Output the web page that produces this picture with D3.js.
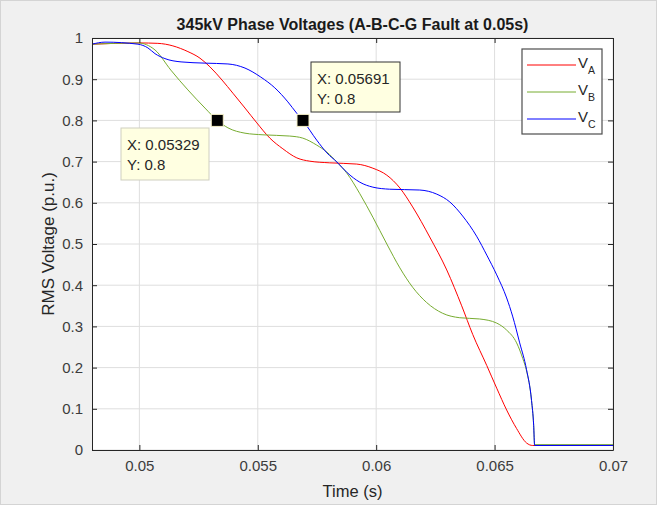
<!DOCTYPE html>
<html>
<head>
<meta charset="utf-8">
<script src="https://cdn.jsdelivr.net/npm/d3@7"></script>
<style>
body { margin: 0; background: #f0f0f0; }
svg { display: block; font-family: "Liberation Sans", Arial, sans-serif; }
</style>
</head>
<body>
<script>
// time (s) sampled along each trace, RMS voltage (p.u.)
var timeA = [0.048, 0.0500, 0.05078, 0.05205, 0.05256, 0.05298, 0.05349, 0.05395, 0.05446, 0.05496, 0.05551, 0.05606, 0.05665, 0.0572, 0.05804, 0.05918, 0.05986, 0.06045, 0.061, 0.06154, 0.06226, 0.06298, 0.06361, 0.06408, 0.06467, 0.06509, 0.06551, 0.06593, 0.06635, 0.06661, 0.07];
var voltA = [0.985, 0.988, 0.987, 0.967, 0.951, 0.930, 0.898, 0.866, 0.830, 0.794, 0.757, 0.731, 0.709, 0.701, 0.697, 0.694, 0.684, 0.667, 0.636, 0.590, 0.517, 0.437, 0.350, 0.280, 0.205, 0.150, 0.097, 0.052, 0.017, 0.011, 0.011];

var timeB = [0.048, 0.04994, 0.05066, 0.05133, 0.05205, 0.05277, 0.05329, 0.05374, 0.05446, 0.05522, 0.05635, 0.0569, 0.05749, 0.05792, 0.05834, 0.05876, 0.05931, 0.05986, 0.06045, 0.061, 0.06154, 0.06213, 0.0628, 0.06353, 0.06437, 0.06509, 0.06551, 0.06593, 0.06619, 0.06635, 0.06656, 0.06665, 0.06669, 0.07];
var voltB = [0.985, 0.988, 0.971, 0.922, 0.874, 0.830, 0.800, 0.782, 0.769, 0.765, 0.762, 0.757, 0.740, 0.723, 0.699, 0.672, 0.622, 0.565, 0.500, 0.442, 0.395, 0.358, 0.332, 0.321, 0.318, 0.308, 0.291, 0.260, 0.222, 0.192, 0.120, 0.06, 0.013, 0.013];

var timeC = [0.048, 0.04855, 0.04994, 0.05036, 0.05066, 0.05108, 0.05176, 0.05277, 0.05374, 0.05446, 0.05513, 0.05572, 0.05627, 0.05665, 0.0569, 0.05749, 0.05792, 0.05834, 0.05876, 0.05931, 0.05986, 0.06057, 0.06184, 0.06256, 0.06311, 0.06365, 0.06424, 0.06467, 0.06509, 0.06551, 0.06576, 0.06606, 0.06635, 0.06656, 0.06665, 0.06669, 0.07];
var voltC = [0.985, 0.990, 0.985, 0.976, 0.962, 0.950, 0.942, 0.939, 0.937, 0.927, 0.905, 0.879, 0.845, 0.817, 0.800, 0.752, 0.721, 0.699, 0.674, 0.650, 0.638, 0.633, 0.631, 0.621, 0.602, 0.568, 0.519, 0.473, 0.425, 0.369, 0.325, 0.260, 0.195, 0.120, 0.06, 0.011, 0.011];

var seriesNames = ["A", "B", "C"];
var seriesColors = ["#ff0000", "#77ac30", "#0000ff"];

var xTicks = [0.05, 0.055, 0.06, 0.065, 0.07];
var xTickLabels = ["0.05", "0.055", "0.06", "0.065", "0.07"];
var yTicks = [0, 0.1, 0.2, 0.3, 0.4, 0.5, 0.6, 0.7, 0.8, 0.9, 1];
var yTickLabels = ["0", "0.1", "0.2", "0.3", "0.4", "0.5", "0.6", "0.7", "0.8", "0.9", "1"];

var tipTimes = [0.05329, 0.05691];
var tipVolts = [0.8, 0.8];
var tipLabels = [["X: 0.05329", "Y: 0.8"], ["X: 0.05691", "Y: 0.8"]];

var width = 657, height = 505;
var margin = {top: 38, right: 44, bottom: 55, left: 92};
var plotW = width - margin.left - margin.right;
var plotH = height - margin.top - margin.bottom;

var xScale = d3.scaleLinear().domain([0.048, 0.07]).range([0, plotW]);
var yScale = d3.scaleLinear().domain([0, 1]).range([plotH, 0]);

var svg = d3.select("body").append("svg")
	.attr("width", width)
	.attr("height", height);

svg.append("rect")
	.attr("x", 0.5).attr("y", 0.5)
	.attr("width", width - 1).attr("height", height - 1)
	.attr("fill", "#f0f0f0")
	.attr("stroke", "#d4d4d4");

var g = svg.append("g")
	.attr("transform", "translate(" + margin.left + "," + margin.top + ")");

g.append("rect")
	.attr("width", plotW).attr("height", plotH)
	.attr("fill", "#ffffff");

// grid
g.append("g").selectAll("line").data(xTicks).enter().append("line")
	.attr("x1", d => xScale(d)).attr("x2", d => xScale(d))
	.attr("y1", 0).attr("y2", plotH)
	.attr("stroke", "#dedede").attr("stroke-width", 1);
g.append("g").selectAll("line").data(yTicks).enter().append("line")
	.attr("y1", d => yScale(d)).attr("y2", d => yScale(d))
	.attr("x1", 0).attr("x2", plotW)
	.attr("stroke", "#dedede").attr("stroke-width", 1);

// lines
var line = d3.line()
	.x(d => xScale(d[0]))
	.y(d => yScale(d[1]))
	.curve(d3.curveMonotoneX);

var allTimes = [timeA, timeB, timeC];
var allVolts = [voltA, voltB, voltC];
for (var i = 0; i < 3; i++) {
	var pts = allTimes[i].map((t, j) => [t, allVolts[i][j]]);
	g.append("path")
		.datum(pts)
		.attr("d", line)
		.attr("fill", "none")
		.attr("stroke", seriesColors[i])
		.attr("stroke-width", 1);
}

// axes (box with inward ticks)
var axisColor = "#262626";
var xAxisB = d3.axisBottom(xScale).tickValues(xTicks).tickFormat((d, i) => xTickLabels[i]).tickSizeInner(-5).tickSizeOuter(0).tickPadding(10);
var xAxisT = d3.axisTop(xScale).tickValues(xTicks).tickFormat("").tickSizeInner(-5).tickSizeOuter(0);
var yAxisL = d3.axisLeft(yScale).tickValues(yTicks).tickFormat((d, i) => yTickLabels[i]).tickSizeInner(-5).tickSizeOuter(0).tickPadding(9);
var yAxisR = d3.axisRight(yScale).tickValues(yTicks).tickFormat("").tickSizeInner(-5).tickSizeOuter(0);

var axB = g.append("g").attr("transform", "translate(0," + plotH + ")").call(xAxisB);
var axT = g.append("g").call(xAxisT);
var axL = g.append("g").call(yAxisL);
var axR = g.append("g").attr("transform", "translate(" + plotW + ",0)").call(yAxisR);
[axB, axT, axL, axR].forEach(function(a) {
	a.select(".domain").attr("stroke", axisColor);
	a.selectAll(".tick line").attr("stroke", axisColor);
	a.selectAll(".tick text").attr("fill", "#3c3c3c").style("font-size", "15px").style("font-family", "Liberation Sans, Arial, sans-serif");
});

// titles
svg.append("text")
	.attr("x", margin.left + plotW / 2).attr("y", 30)
	.attr("text-anchor", "middle")
	.style("font-size", "16px").style("font-weight", "bold")
	.attr("fill", "#1a1a1a")
	.text("345kV Phase Voltages (A-B-C-G Fault at 0.05s)");

svg.append("text")
	.attr("x", margin.left + plotW / 2).attr("y", 497)
	.attr("text-anchor", "middle")
	.style("font-size", "16.5px")
	.attr("fill", "#262626")
	.text("Time (s)");

svg.append("text")
	.attr("transform", "translate(54," + (margin.top + plotH / 2) + ") rotate(-90)")
	.attr("text-anchor", "middle")
	.style("font-size", "17px")
	.attr("fill", "#262626")
	.text("RMS Voltage (p.u.)");

// legend
var leg = g.append("g").attr("transform", "translate(" + (plotW - 91) + ",11)");
leg.append("rect")
	.attr("width", 80).attr("height", 85)
	.attr("fill", "#ffffff").attr("stroke", "#4d4d4d").attr("stroke-width", 1.2);
seriesNames.forEach(function(n, i) {
	var yy = 16 + i * 27;
	leg.append("line")
		.attr("x1", 5).attr("x2", 54).attr("y1", yy).attr("y2", yy)
		.attr("stroke", seriesColors[i]).attr("stroke-width", 1);
	var t = leg.append("text").attr("x", 56).attr("y", yy + 3)
		.style("font-size", "15px").attr("fill", "#262626");
	t.append("tspan").text("V");
	t.append("tspan").attr("dy", 6).style("font-size", "10.5px").text(n);
});

// data tips
var boxPos = [[121 - margin.left, 128 - margin.top, 88, 52], [311 - margin.left, 62 - margin.top, 89, 50]];
var boxStroke = ["#cfcfc0", "#333333"];
tipTimes.forEach(function(t, i) {
	var b = boxPos[i];
	var tg = g.append("g");
	tg.append("rect")
		.attr("x", b[0]).attr("y", b[1]).attr("width", b[2]).attr("height", b[3])
		.attr("fill", "#ffffe1").attr("stroke", boxStroke[i]).attr("stroke-width", 1);
	tipLabels[i].forEach(function(s, k) {
		tg.append("text")
			.attr("x", b[0] + 6).attr("y", b[1] + 22 + k * 20)
			.style("font-size", "15px").attr("fill", "#262626")
			.text(s);
	});
	g.append("rect")
		.attr("x", xScale(t) - 6).attr("y", yScale(tipVolts[i]) - 6)
		.attr("width", 12).attr("height", 12)
		.attr("fill", "#000000").attr("stroke", "#f5f0c8").attr("stroke-width", 1);
});
</script>
</body>
</html>
